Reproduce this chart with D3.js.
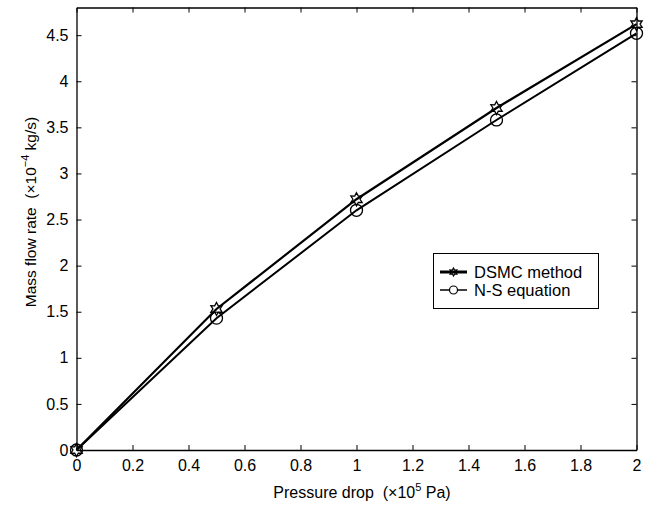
<!DOCTYPE html>
<html>
<head>
<meta charset="utf-8">
<script src="https://cdn.jsdelivr.net/npm/d3@7"></script>
<style>
  body { margin: 0; background: #fff; }
  text { font-family: "Liberation Sans", Arial, sans-serif; fill: #000; white-space: pre; }
</style>
</head>
<body>
<div id="chart"></div>
<script>
// data
const pressureDrop = [0, 0.5, 1, 1.5, 2];
const dsmcFlow = [0, 1.53, 2.72, 3.71, 4.62];
const nsFlow = [0, 1.43, 2.60, 3.58, 4.52];
const xTicks = [0, 0.2, 0.4, 0.6, 0.8, 1, 1.2, 1.4, 1.6, 1.8, 2];
const yTicks = [0, 0.5, 1, 1.5, 2, 2.5, 3, 3.5, 4, 4.5];

const width = 655, height = 506;
const margin = { left: 76.5, right: 18.5, top: 7.5, bottom: 56 };

const svg = d3.select("#chart").append("svg")
    .attr("width", width)
    .attr("height", height);

const x = d3.scaleLinear().domain([0, 2]).range([margin.left, width - margin.right]);
const y = d3.scaleLinear().domain([0, 4.8]).range([height - margin.bottom, margin.top]);

// axes with inward ticks on all four sides
const fmt = d => String(d);
svg.append("g")
    .attr("transform", `translate(0,${y(0)})`)
    .call(d3.axisBottom(x).tickValues(xTicks).tickFormat(fmt).tickSizeInner(-5).tickSizeOuter(0).tickPadding(10));
svg.append("g")
    .attr("transform", `translate(0,${y(4.8)})`)
    .call(d3.axisTop(x).tickValues(xTicks).tickFormat("").tickSizeInner(-5).tickSizeOuter(0));
svg.append("g")
    .attr("transform", `translate(${x(0)},0)`)
    .call(d3.axisLeft(y).tickValues(yTicks).tickFormat(fmt).tickSizeInner(-5).tickSizeOuter(0).tickPadding(8));
svg.append("g")
    .attr("transform", `translate(${x(2)},0)`)
    .call(d3.axisRight(y).tickValues(yTicks).tickFormat("").tickSizeInner(-5).tickSizeOuter(0));

svg.selectAll(".domain").attr("stroke", "#000").attr("stroke-width", 1.3);
svg.selectAll(".tick line").attr("stroke", "#000");
svg.selectAll(".tick text").attr("font-size", 16).attr("font-family", "Liberation Sans, Arial, sans-serif");

// lines
const line = d3.line().x(d => x(d[0])).y(d => y(d[1]));
const dsmcPts = pressureDrop.map((p, i) => [p, dsmcFlow[i]]);
const nsPts = pressureDrop.map((p, i) => [p, nsFlow[i]]);

svg.append("path").datum(nsPts).attr("d", line)
    .attr("fill", "none").attr("stroke", "#000").attr("stroke-width", 2);
svg.append("path").datum(dsmcPts).attr("d", line)
    .attr("fill", "none").attr("stroke", "#000").attr("stroke-width", 2.2);

// hexagram marker
function hexagram(r) {
    const pts = [];
    for (let i = 0; i < 12; i++) {
        const a = -Math.PI / 2 + i * Math.PI / 6;
        const rr = i % 2 === 0 ? r : r * 0.55;
        pts.push([rr * Math.cos(a), rr * Math.sin(a)]);
    }
    return "M" + pts.map(p => p.join(",")).join("L") + "Z";
}

svg.selectAll(".ns-mark").data(nsPts).enter().append("circle")
    .attr("cx", d => x(d[0])).attr("cy", d => y(d[1])).attr("r", 6)
    .attr("fill", "none").attr("stroke", "#000").attr("stroke-width", 1.3);
svg.selectAll(".dsmc-mark").data(dsmcPts).enter().append("path")
    .attr("transform", d => `translate(${x(d[0])},${y(d[1])})`)
    .attr("d", hexagram(6.5))
    .attr("fill", "none").attr("stroke", "#000").attr("stroke-width", 1.3);

// legend
const lg = svg.append("g");
lg.append("rect").attr("x", 433.5).attr("y", 253.5).attr("width", 165).attr("height", 55)
    .attr("fill", "#fff").attr("stroke", "#000").attr("stroke-width", 1);
lg.append("line").attr("x1", 440).attr("x2", 467).attr("y1", 272).attr("y2", 272)
    .attr("stroke", "#000").attr("stroke-width", 3);
lg.append("path").attr("transform", "translate(453.5,272)").attr("d", hexagram(4))
    .attr("fill", "none").attr("stroke", "#000").attr("stroke-width", 1.2);
lg.append("line").attr("x1", 440).attr("x2", 467).attr("y1", 290).attr("y2", 290)
    .attr("stroke", "#000").attr("stroke-width", 1.5);
lg.append("circle").attr("cx", 453.5).attr("cy", 290).attr("r", 4)
    .attr("fill", "#fff").attr("stroke", "#000").attr("stroke-width", 1.2);
lg.append("text").attr("x", 474).attr("y", 278).attr("font-size", 16.5).text("DSMC method");
lg.append("text").attr("x", 474).attr("y", 296).attr("font-size", 16.5).text("N-S equation");

// axis labels
const xl = svg.append("text").attr("x", 362).attr("y", 498).attr("text-anchor", "middle").attr("font-size", 16);
xl.append("tspan").text("Pressure drop  (×10");
xl.append("tspan").attr("dy", -7).attr("font-size", 11).text("5");
xl.append("tspan").attr("dy", 7).text(" Pa)");

const yl = svg.append("text").attr("transform", "translate(36,212) rotate(-90)")
    .attr("text-anchor", "middle").attr("font-size", 15.5);
yl.append("tspan").text("Mass flow rate  (×10");
yl.append("tspan").attr("dy", -7).attr("font-size", 11).text("−4");
yl.append("tspan").attr("dy", 7).text(" kg/s)");
</script>
</body>
</html>
